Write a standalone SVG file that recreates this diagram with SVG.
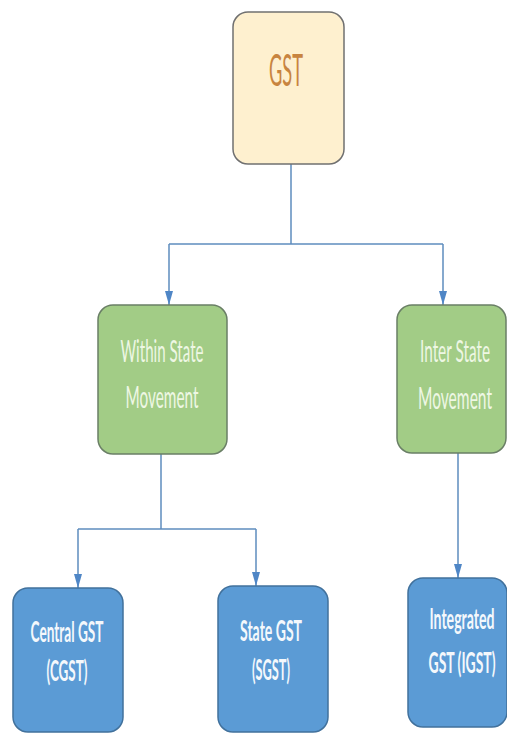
<svg xmlns="http://www.w3.org/2000/svg" width="507" height="733" viewBox="0 0 507 733">
  <defs>
    <marker id="arr" markerWidth="14" markerHeight="8" refX="14" refY="4" orient="auto" markerUnits="userSpaceOnUse" viewBox="0 0 14 8">
      <path d="M0,0 L14,4 L0,8 Z" fill="#4F86C6"/>
    </marker>
  </defs>
  <style>
    .gst { fill: #FEF0CF; stroke: #707070; stroke-width: 1.5; }
    .green { fill: #A2CC86; stroke: #6A7F66; stroke-width: 1.5; }
    .blue { fill: #5B9BD5; stroke: #41719C; stroke-width: 1.5; }
    .conn { fill: none; stroke: #5E8DBE; stroke-width: 1.5; }
    .t { font-family: Lato, "Open Sans", "Liberation Sans", sans-serif; text-anchor: middle; }
    .tg { fill: #C8843F; font-size: 44px; }
    .tgr { fill: #EEF7E4; font-size: 31px; }
    .tb { fill: #F4F8FC; font-size: 28px; font-weight: bold; }
  </style>
  <rect width="507" height="733" fill="#FFFFFF"/>

  <g id="connectors">
    <polyline class="conn" points="291,164 291,244"/>
    <polyline class="conn" points="169,244 443,244"/>
    <line class="conn" x1="169" y1="244" x2="169" y2="305" marker-end="url(#arr)"/>
    <line class="conn" x1="443" y1="244" x2="443" y2="305" marker-end="url(#arr)"/>
    <polyline class="conn" points="161,454 161,529"/>
    <polyline class="conn" points="78,529 256,529"/>
    <line class="conn" x1="78" y1="529" x2="78" y2="588" marker-end="url(#arr)"/>
    <line class="conn" x1="256" y1="529" x2="256" y2="586" marker-end="url(#arr)"/>
    <line class="conn" x1="458" y1="453" x2="458" y2="578" marker-end="url(#arr)"/>
  </g>

  <g id="node-gst">
    <rect class="gst" x="233" y="12" width="111" height="152" rx="15"/>
    <text class="t tg" transform="translate(286,86) scale(0.5,1)" textLength="68" lengthAdjust="spacingAndGlyphs">GST</text>
  </g>

  <g id="node-within">
    <rect class="green" x="98" y="305" width="129" height="149" rx="15"/>
    <text class="t tgr" transform="translate(162,362) scale(0.5,1)" textLength="166" lengthAdjust="spacingAndGlyphs">Within State</text>
    <text class="t tgr" transform="translate(162,408) scale(0.5,1)" textLength="146" lengthAdjust="spacingAndGlyphs">Movement</text>
  </g>

  <g id="node-inter">
    <rect class="green" x="397" y="305" width="109" height="148" rx="15"/>
    <text class="t tgr" transform="translate(455,362) scale(0.5,1)" textLength="140" lengthAdjust="spacingAndGlyphs">Inter State</text>
    <text class="t tgr" transform="translate(455,409) scale(0.5,1)" textLength="148" lengthAdjust="spacingAndGlyphs">Movement</text>
  </g>

  <g id="node-cgst">
    <rect class="blue" x="13" y="588" width="110" height="144" rx="15"/>
    <text class="t tb" transform="translate(67,642) scale(0.5,1)" textLength="146" lengthAdjust="spacingAndGlyphs">Central GST</text>
    <text class="t tb" transform="translate(67,681) scale(0.5,1)" textLength="82" lengthAdjust="spacingAndGlyphs">(CGST)</text>
  </g>

  <g id="node-sgst">
    <rect class="blue" x="218" y="586" width="110" height="146" rx="15"/>
    <text class="t tb" transform="translate(271,641) scale(0.5,1)" textLength="124" lengthAdjust="spacingAndGlyphs">State GST</text>
    <text class="t tb" transform="translate(271,680) scale(0.5,1)" textLength="76" lengthAdjust="spacingAndGlyphs">(SGST)</text>
  </g>

  <g id="node-igst">
    <rect class="blue" x="408" y="578" width="99" height="149" rx="15"/>
    <text class="t tb" transform="translate(462,629) scale(0.5,1)" textLength="130" lengthAdjust="spacingAndGlyphs">Integrated</text>
    <text class="t tb" transform="translate(462,673) scale(0.5,1)" textLength="134" lengthAdjust="spacingAndGlyphs">GST (IGST)</text>
  </g>
</svg>
